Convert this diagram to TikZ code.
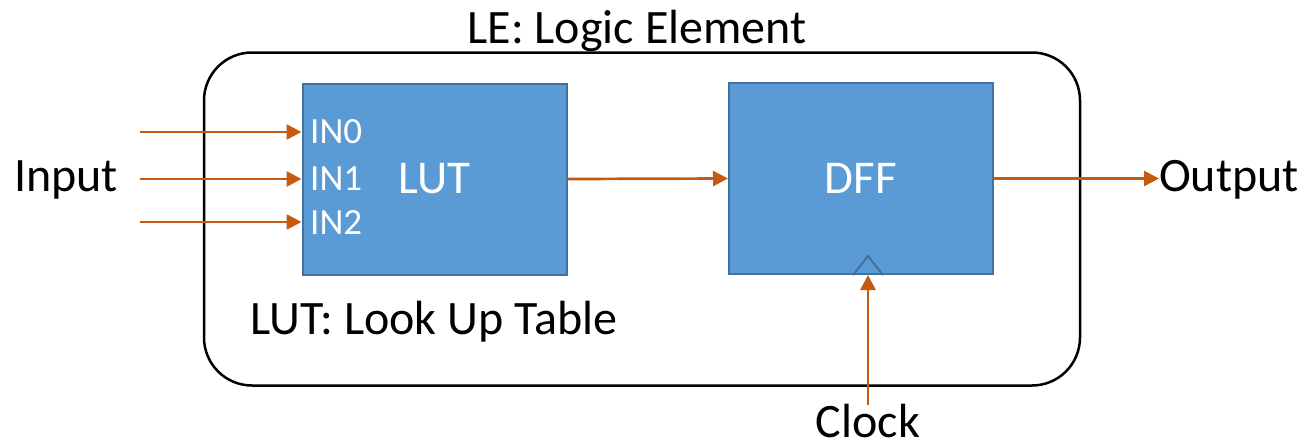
\documentclass[tikz,border=0pt]{standalone}
\usepackage{fontspec}
\setmainfont{Carlito}
\usetikzlibrary{arrows.meta,positioning}

\definecolor{blockblue}{HTML}{5B9BD5}
\definecolor{blockedge}{HTML}{41719C}
\definecolor{wireorange}{HTML}{C55A11}

\begin{document}
\begin{tikzpicture}[x=1pt,y=-1pt,
  block/.style={draw=blockedge,fill=blockblue,line width=2pt,text=white,
    minimum width=264pt,minimum height=191pt,inner sep=0pt,
    font=\fontsize{47}{56}\selectfont},
  port/.style={text=white,anchor=west,inner sep=0pt,
    font=\fontsize{37}{44}\selectfont},
  lbl/.style={inner sep=0pt,font=\fontsize{48}{57}\selectfont},
  wire/.style={-{Triangle[length=15pt,width=15pt]},draw=wireorange,line width=2.7pt}]
\useasboundingbox (0,0) rectangle (1307,445);
% logic element frame
\node[draw,line width=2.5pt,rounded corners=48pt,minimum width=876pt,
  minimum height=333pt,inner sep=0pt] (le) at (642,219) {};
\node[lbl,anchor=base] (title) at (637,43) {LE: Logic Element};
% LUT and flip-flop
\node[block] (lut) at (434.5,179) {LUT};
\node[block] (dff) at (861,178.5) {DFF};
\coordinate (clk) at ([xshift=7pt]dff.south);
\draw[blockedge,line width=2pt] ([xshift=-15pt]clk) -- ([yshift=19pt]clk) -- ([xshift=15pt]clk);
\node[lbl,anchor=base west] (lutcap) at (250,334) {LUT: Look Up Table};
% external labels
\node[lbl,anchor=base west] (inp) at (14,191) {Input};
\node[lbl,anchor=base west] (outp) at (1159,191) {Output};
\node[lbl,anchor=base] (clock) at (868,437) {Clock};
% inputs
\foreach \i/\y in {0/132,1/179,2/222} {
  \coordinate (src\i) at (140,\y);
  \node[port] (in\i) at (310,\y) {IN\i};
  \draw[wire] (src\i) -- (lut.west |- in\i);
}
\draw[wire] (lut.east) -- (dff.west);
\draw[wire] (dff.east) -- (dff.east -| outp.west);
\draw[wire] ([yshift=-2pt]clock.north) -- (clk);
\end{tikzpicture}
\end{document}
